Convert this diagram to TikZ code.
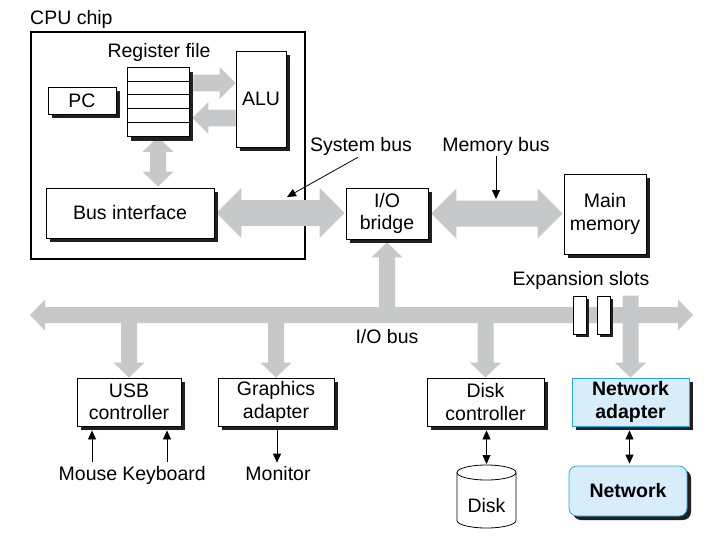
\documentclass[tikz,border=0pt]{standalone}
\usepackage{fontspec}
\setmainfont{Liberation Sans}
\usetikzlibrary{calc,shadows,arrows.meta}
\definecolor{busgray}{RGB}{199,200,202}
\definecolor{shadowc}{RGB}{35,31,32}
\definecolor{netfill}{RGB}{216,237,250}
\definecolor{netdraw}{RGB}{40,170,225}
\pgfdeclarelayer{bg}
\pgfsetlayers{bg,main}
\newcommand\dfont{\fontsize{19.5}{22.5}\selectfont}
\newcommand\ahS{8}\newcommand\ahH{15.5}\newcommand\ahL{15}
% single fat arrow: #1 from, #2 to, (#3,#4) unit direction
\newcommand\fatone[4]{%
 \fill[busgray] ($(#1)+({-(#4)*\ahS},{(#3)*\ahS})$)
   -- ($(#2)+({-(#3)*\ahL-(#4)*\ahS},{-(#4)*\ahL+(#3)*\ahS})$)
   -- ($(#2)+({-(#3)*\ahL-(#4)*\ahH},{-(#4)*\ahL+(#3)*\ahH})$)
   -- (#2)
   -- ($(#2)+({-(#3)*\ahL+(#4)*\ahH},{-(#4)*\ahL-(#3)*\ahH})$)
   -- ($(#2)+({-(#3)*\ahL+(#4)*\ahS},{-(#4)*\ahL-(#3)*\ahS})$)
   -- ($(#1)+({(#4)*\ahS},{-(#3)*\ahS})$) -- cycle;}
% double fat arrow
\newcommand\fatdbl[4]{%
 \fill[busgray] (#1)
  -- ($(#1)+({(#3)*\ahL-(#4)*\ahH},{(#4)*\ahL+(#3)*\ahH})$)
  -- ($(#1)+({(#3)*\ahL-(#4)*\ahS},{(#4)*\ahL+(#3)*\ahS})$)
  -- ($(#2)+({-(#3)*\ahL-(#4)*\ahS},{-(#4)*\ahL+(#3)*\ahS})$)
  -- ($(#2)+({-(#3)*\ahL-(#4)*\ahH},{-(#4)*\ahL+(#3)*\ahH})$)
  -- (#2)
  -- ($(#2)+({-(#3)*\ahL+(#4)*\ahH},{-(#4)*\ahL-(#3)*\ahH})$)
  -- ($(#2)+({-(#3)*\ahL+(#4)*\ahS},{-(#4)*\ahL-(#3)*\ahS})$)
  -- ($(#1)+({(#3)*\ahL+(#4)*\ahS},{(#4)*\ahL-(#3)*\ahS})$)
  -- ($(#1)+({(#3)*\ahL+(#4)*\ahH},{(#4)*\ahL-(#3)*\ahH})$)
  -- cycle;}
\begin{document}
\begin{tikzpicture}[x=1pt,y=-1pt,
  plain/.style={draw=black, line width=0.8pt, fill=white, inner sep=0pt, align=center, font=\dfont},
  box/.style={plain, drop shadow={shadow xshift=4pt, shadow yshift=-4pt, fill=shadowc, opacity=1}},
  slotbox/.style={plain, minimum width=13pt, minimum height=38pt, drop shadow={shadow xshift=3pt, shadow yshift=-3pt, fill=shadowc, opacity=1}},
  lbl/.style={inner sep=0pt, anchor=base, font=\dfont},
  thinarrow/.style={line width=0.8pt, -{Triangle[length=9pt,width=8pt]}},
  thindbl/.style={line width=0.8pt, {Triangle[length=9pt,width=8pt]}-{Triangle[length=9pt,width=8pt]}}]
\useasboundingbox (0,0) rectangle (719,535);
\begin{pgfonlayer}{bg}
\node[draw, line width=2.7pt, minimum width=274pt, minimum height=227pt, inner sep=0pt] (cpu) at (168,145.5) {};
\end{pgfonlayer}
\node[lbl, anchor=base west] (cpulbl) at (30,25) {CPU chip};
% register file
\node[box, minimum width=62pt, minimum height=69pt] (reg) at (158,102) {};
\foreach \k in {1,...,4}
  \draw[line width=0.8pt] ($(reg.north west)+(0,13.8*\k)$) -- ($(reg.north east)+(0,13.8*\k)$);
\node[lbl] (reglbl) at (159,57) {Register file};
\node[box, minimum width=68pt, minimum height=27pt] (pc) at (82,100.5) {PC};
\node[box, minimum width=50pt, minimum height=96pt] (alu) at (261,99) {ALU};
\node[box, minimum width=168pt, minimum height=50pt] (busif) at (130,213) {Bus interface};
\node[box, minimum width=82pt, minimum height=51pt] (bridge) at (387,213.5) {I/O\\bridge};
\node[box, minimum width=82pt, minimum height=80pt] (mem) at (605,214) {Main\\memory};
\node[lbl] (sysbus) at (361,151) {System bus};
\node[lbl] (membus) at (496,151) {Memory bus};
\node[lbl] (explbl) at (581,285) {Expansion slots};
\node[lbl] (ioblbl) at (387,343) {I/O bus};
\node[slotbox] (slot1) at (579.5,315) {};
\node[slotbox] (slot2) at (603.5,315) {};
% I/O devices
\node[box, minimum width=104pt, minimum height=48pt] (usb) at (129,402) {USB\\controller};
\node[box, minimum width=116pt, minimum height=48pt] (gfx) at (276,402) {Graphics\\adapter};
\node[box, minimum width=117pt, minimum height=48pt] (diskc) at (485.5,402) {Disk\\controller};
\node[box, draw=netdraw, fill=netfill, minimum width=117pt, minimum height=48pt, font=\dfont\bfseries] (netad) at (630.5,402) {Network\\adapter};
\node[box, draw=netdraw, fill=netfill, rounded corners=8pt, minimum width=118pt, minimum height=50pt, font=\dfont\bfseries] (net) at (628,491) {Network};
\node[lbl] (mouse) at (88,480) {Mouse};
\node[lbl] (kbd) at (164,480) {Keyboard};
\node[lbl] (monitor) at (278,480) {Monitor};
% disk cylinder
\draw[line width=0.8pt, fill=white] (457,472.5) -- (457,520.5)
  arc[start angle=180, end angle=360, x radius=29.5pt, y radius=7.5pt] -- (516,472.5)
  arc[start angle=0, end angle=180, x radius=29.5pt, y radius=7.5pt] -- cycle;
\draw[line width=0.8pt] (457,472.5) arc[start angle=180, end angle=360, x radius=29.5pt, y radius=7.5pt];
\coordinate (disktop) at (486.5,465);
\node[lbl] (disk) at (486.5,512) {Disk};
% thin arrows
\draw[thinarrow] ($(mouse.north)+(4,-4)$) coordinate (m1) -- ($(m1 |- usb.south)+(0,4)$);
\draw[thinarrow] ($(kbd.north)+(3,-4)$) coordinate (k1) -- ($(k1 |- usb.south)+(0,4)$);
\draw[thinarrow] ($(gfx.south)+(1,4)$) coordinate (g1) -- ($(g1 |- monitor.north)+(0,-3)$);
\draw[thindbl] ($(diskc.south)+(1,4)$) -- ($(disktop)+(0,-1)$);
\draw[thindbl] ($(netad.south)+(-1,4)$) coordinate (n1) -- ($(n1 |- net.north)+(0,-2)$);
\coordinate (sbtip) at (287,197);
\draw[thinarrow] ($(sysbus.south)+(-3,2)$) -- (sbtip);
\coordinate (mbtip) at (496,199);
\draw[thinarrow] ($(membus.south)+(0,1)$) -- (mbtip);
% fat bus arrows
\begin{pgfonlayer}{bg}
\renewcommand\ahS{13}\renewcommand\ahH{25}\renewcommand\ahL{25}
\coordinate (sb1) at ($(busif.east)+(2,0)$);
\coordinate (sb2) at ($(busif.east -| bridge.west)+(-1,0)$);
\fatdbl{sb1}{sb2}{1}{0}
\coordinate (mb1) at ($(bridge.east)+(3,0)$);
\coordinate (mb2) at ($(bridge.east -| mem.west)+(-1,0)$);
\fatdbl{mb1}{mb2}{1}{0}
\renewcommand\ahS{8.3}\renewcommand\ahH{16}\renewcommand\ahL{16}
\coordinate (ra1) at ($(reg.east)+(4,-19)$);
\coordinate (ra2) at ($(reg.east -| alu.west)+(0,-19)$);
\fatone{ra1}{ra2}{1}{0}
\coordinate (la1) at ($(reg.east -| alu.west)+(0,16)$);
\coordinate (la2) at ($(reg.east)+(3,16)$);
\fatone{la1}{la2}{-1}{0}
\renewcommand\ahS{8}\renewcommand\ahH{15.5}\renewcommand\ahL{15}
\coordinate (va1) at (reg.south);
\coordinate (va2) at ($(reg.south |- busif.north)+(0,-1)$);
\fatdbl{va1}{va2}{0}{1}
\coordinate (iobL) at (30,315);
\coordinate (iobR) at (693,315);
\fatdbl{iobL}{iobR}{1}{0}
\coordinate (bu1) at (bridge.south |- iobL);
\coordinate (bu2) at ($(bridge.south)+(0,3)$);
\fatone{bu1}{bu2}{0}{-1}
\coordinate (d1a) at (usb.north |- iobL);
\fatone{d1a}{usb.north}{0}{1}
\coordinate (d2a) at (gfx.north |- iobL);
\fatone{d2a}{gfx.north}{0}{1}
\coordinate (d3a) at (diskc.north |- iobL);
\fatone{d3a}{diskc.north}{0}{1}
\coordinate (d4a) at (netad.north |- slot1.north);
\fatone{d4a}{netad.north}{0}{1}
\end{pgfonlayer}
\end{tikzpicture}
\end{document}
